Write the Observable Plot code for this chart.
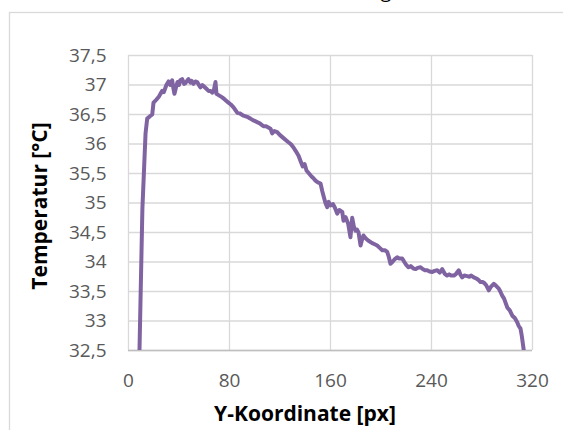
<!DOCTYPE html>
<html>
<head>
<meta charset="utf-8">
<script src="https://cdn.jsdelivr.net/npm/d3@7"></script>
<script src="https://cdn.jsdelivr.net/npm/@observablehq/plot@0.6"></script>
<style>
  html, body { margin: 0; padding: 0; background: #fff; }
  #chart { position: relative; width: 563px; height: 430px; overflow: hidden; }
</style>
</head>
<body>
<div id="chart"></div>
<script>
const yCoord = [8.7, 11, 13.5, 14.8, 17, 18.8, 19.8, 22, 24, 25.3, 26.7, 28, 30, 31.7, 33, 34.6, 35.5, 36.4, 37.5, 38.8, 40, 41, 42.5, 44, 45.1, 46, 47.5, 49, 50, 51.5, 53, 54.4, 56, 57, 58.5, 60, 61.5, 63.4, 65, 66.3, 67.5, 68.9, 69.7, 72, 74.2, 76, 79.2, 81, 83.2, 86.1, 88, 91.1, 94, 96.6, 99, 101.9, 104, 106.9, 109, 112.5, 113.8, 115.5, 117.8, 120, 122.8, 125, 126.7, 128.5, 130.7, 132.5, 134.7, 136.5, 138, 139.5, 141, 143, 145, 146.5, 148.1, 150, 152.1, 153.5, 154.7, 156, 157.4, 158.5, 160, 162, 163.5, 165.3, 167, 169.3, 170.3, 172, 174, 175.8, 177.2, 178.5, 179.8, 181, 182.2, 183.8, 185, 186.1, 188, 190.1, 193, 195, 197, 199, 201, 203, 204.9, 206, 207.5, 209, 211, 212.8, 214.5, 216.8, 218.5, 220, 221.8, 223.5, 225.7, 227.5, 229, 231.3, 233, 234.8, 236.6, 238.5, 240.6, 242.5, 244.5, 246.5, 248.5, 250.5, 252.4, 254, 255.5, 257.7, 259.5, 261.6, 263, 264.3, 266, 268.3, 270, 271.5, 273.5, 275.5, 277, 278.8, 280.5, 282, 283.5, 285.4, 287, 289.3, 291, 293.3, 294.5, 296, 297.5, 298.5, 300, 302, 304, 306, 307.9, 309, 310.5, 311.5, 313.1];
const temperatur = [32.5, 34.9, 36.18, 36.43, 36.47, 36.5, 36.7, 36.75, 36.8, 36.85, 36.9, 36.88, 37.0, 37.06, 37.0, 37.08, 36.95, 36.85, 36.95, 37.05, 37.0, 37.08, 37.1, 37.02, 37.03, 37.06, 37.1, 37.04, 37.07, 37.02, 37.06, 37.05, 36.99, 36.96, 37.0, 36.97, 36.94, 36.9, 36.9, 36.87, 36.9, 37.05, 36.85, 36.82, 36.79, 36.76, 36.7, 36.67, 36.62, 36.53, 36.52, 36.48, 36.46, 36.43, 36.4, 36.37, 36.35, 36.3, 36.3, 36.26, 36.18, 36.22, 36.2, 36.15, 36.1, 36.06, 36.03, 36.0, 35.94, 35.88, 35.8, 35.7, 35.62, 35.66, 35.55, 35.5, 35.45, 35.42, 35.38, 35.35, 35.33, 35.2, 35.1, 35.0, 34.93, 35.02, 34.96, 34.98, 34.92, 34.82, 34.88, 34.85, 34.7, 34.76, 34.65, 34.42, 34.75, 34.6, 34.53, 34.55, 34.5, 34.28, 34.38, 34.45, 34.4, 34.36, 34.32, 34.3, 34.28, 34.24, 34.2, 34.2, 34.17, 34.1, 33.97, 34.0, 34.05, 34.08, 34.06, 34.06, 34.0, 33.95, 33.91, 33.93, 33.89, 33.88, 33.9, 33.91, 33.88, 33.86, 33.86, 33.84, 33.83, 33.85, 33.86, 33.82, 33.88, 33.8, 33.77, 33.79, 33.77, 33.77, 33.8, 33.86, 33.78, 33.74, 33.77, 33.76, 33.75, 33.77, 33.74, 33.72, 33.7, 33.66, 33.66, 33.64, 33.6, 33.52, 33.58, 33.63, 33.6, 33.55, 33.5, 33.43, 33.38, 33.32, 33.23, 33.18, 33.09, 33.05, 32.98, 32.92, 32.87, 32.75, 32.5];
const xTicks = [0, 80, 160, 240, 320];
const yTicks = [32.5, 33, 33.5, 34, 34.5, 35, 35.5, 36, 36.5, 37, 37.5];
const xTitle = "Y-Koordinate [px]";
const yTitle = "Temperatur [°C]";

const data = yCoord.map((x, i) => ({x, t: temperatur[i]}));
const font = "'Open Sans', 'Noto Sans', sans-serif";
const fmt = d => String(d).replace(".", ",");

const plot = Plot.plot({
  width: 563,
  height: 430,
  marginLeft: 128,
  marginRight: 31,
  marginTop: 55,
  marginBottom: 80,
  style: {fontFamily: font, fontSize: "19px", color: "#595959", background: "transparent"},
  x: {domain: [0, 320], ticks: xTicks, label: null},
  y: {domain: [32.5, 37.5], ticks: yTicks, label: null},
  marks: [
    Plot.gridX(xTicks, {stroke: "#d9d9d9", strokeOpacity: 1, strokeWidth: 1.3}),
    Plot.gridY(yTicks, {stroke: "#d9d9d9", strokeOpacity: 1, strokeWidth: 1.3}),
    Plot.ruleY([32.5], {stroke: "#bfbfbf", strokeWidth: 1.5}),
    Plot.axisX(xTicks, {tickSize: 0, tickPadding: 23, fill: "#595959", fontSize: 19, label: null}),
    Plot.axisY(yTicks, {tickSize: 0, tickPadding: 22, fill: "#595959", fontSize: 19, tickFormat: fmt, label: null}),
    Plot.line(data, {x: "x", y: "t", stroke: "#8064a2", strokeWidth: 4, strokeLinejoin: "round", strokeLinecap: "round", clip: true})
  ]
});

const svg = d3.select(plot);
// chart area border
svg.insert("rect", ":first-child")
  .attr("x", 9.5).attr("y", 12.5).attr("width", 700).attr("height", 700)
  .attr("fill", "none").attr("stroke", "#d9d9d9").attr("stroke-width", 1.3);
// x title
svg.append("text")
  .attr("x", 305).attr("y", 421).attr("text-anchor", "middle")
  .attr("font-family", font).attr("font-size", 21).attr("font-weight", "bold")
  .attr("fill", "#000").text(xTitle);
// y title
svg.append("text")
  .attr("transform", "translate(47,206) rotate(-90)")
  .attr("text-anchor", "middle")
  .attr("font-family", font).attr("font-size", 21).attr("font-weight", "bold")
  .attr("fill", "#000").text(yTitle);
// cut-off chart title (only descender visible)
svg.append("text")
  .attr("x", 391).attr("y", -2).attr("text-anchor", "end")
  .attr("font-family", font).attr("font-size", 19)
  .attr("fill", "#000").text("Messung");

document.getElementById("chart").appendChild(plot);
</script>
</body>
</html>
